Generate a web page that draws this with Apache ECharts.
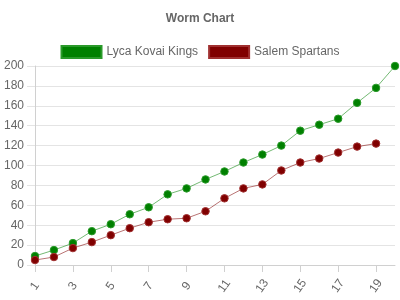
<!DOCTYPE html>
<html><head><meta charset="utf-8">
<script src="https://cdn.jsdelivr.net/npm/echarts@6/dist/echarts.min.js"></script>
<style>html,body{margin:0;padding:0;background:#fff}#c{width:400px;height:300px}</style>
</head><body><div id="c"></div>
<script>
const overs = ['1','2','3','4','5','6','7','8','9','10','11','12','13','14','15','16','17','18','19','20'];
const lycaKovaiKings = [9,15,22,34,41,51,58,71,77,86,94,103,111,120,135,141,147,163,178,200];
const salemSpartans = [5,8,17,23,30,37,43,46,47,54,67,77,81,95,103,107,113,119,122];
const yTicks = [0,20,40,60,80,100,120,140,160,180,200];

const font = 'Liberation Sans, Arial, sans-serif';
const chart = echarts.init(document.getElementById('c'), null, {renderer:'canvas'});
chart.setOption({
  animation:false,
  title:{text:'Worm Chart',left:'center',top:8,textStyle:{fontFamily:font,fontSize:12,fontWeight:'bold',color:'#666'}},
  legend:{top:40,left:'center',itemWidth:40,itemHeight:12,itemGap:10,icon:'rect',
    textStyle:{fontFamily:font,fontSize:12,color:'#666'},
    data:['Lyca Kovai Kings','Salem Spartans']},
  grid:{left:35,right:5,top:66,bottom:35,containLabel:false},
  xAxis:{type:'category',data:overs,boundaryGap:false,
    axisLine:{lineStyle:{color:'#d0d0d0'}},
    axisTick:{interval:1,length:7,lineStyle:{color:'#d0d0d0'}},
    axisLabel:{interval:1,rotate:55,align:'center',verticalAlign:'middle',fontFamily:font,fontSize:12,color:'#666',margin:21},
    splitLine:{show:false}},
  yAxis:{type:'value',min:yTicks[0],max:yTicks[yTicks.length-1],interval:20,
    axisLine:{show:true,lineStyle:{color:'#d0d0d0'}},
    axisTick:{show:true,length:8,lineStyle:{color:'#e4e4e4'}},
    axisLabel:{fontFamily:font,fontSize:12,color:'#666',margin:11},
    splitLine:{lineStyle:{color:'#e4e4e4'}}},
  series:[
    {name:'Lyca Kovai Kings',type:'line',data:lycaKovaiKings,symbol:'circle',symbolSize:7.5,
     itemStyle:{color:'#008000',borderColor:'#2a9a2a',borderWidth:1},lineStyle:{color:'#008000',width:1,opacity:0.55}},
    {name:'Salem Spartans',type:'line',data:salemSpartans,symbol:'circle',symbolSize:7.5,
     itemStyle:{color:'#800000',borderColor:'#a03030',borderWidth:1},lineStyle:{color:'#800000',width:1,opacity:0.55}}
  ]
});
</script></body></html>
